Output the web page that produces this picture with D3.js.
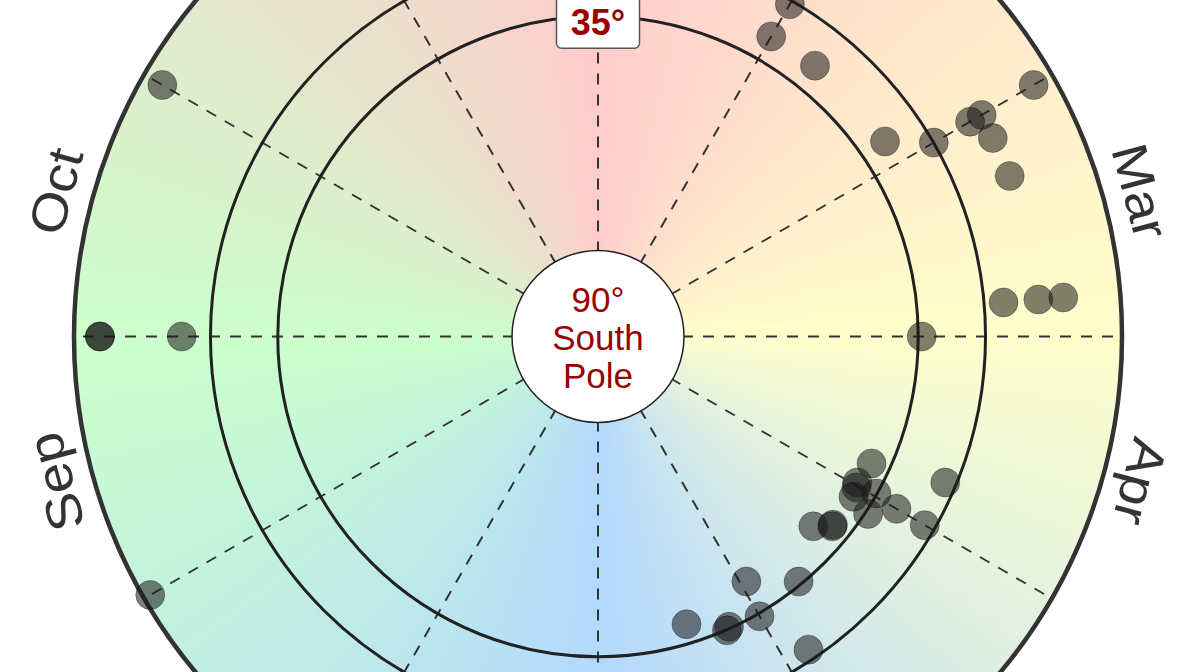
<!DOCTYPE html>
<html>
<head>
<meta charset="utf-8">
<script src="https://cdn.jsdelivr.net/npm/d3@7"></script>
<style>
  html, body { margin: 0; padding: 0; background: #fff; }
  svg { display: block; }
</style>
</head>
<body>
<svg id="chart" width="1177" height="672"></svg>
<script>
// ---- data ----
const months = ["Jan","Feb","Mar","Apr","May","Jun","Jul","Aug","Sep","Oct","Nov","Dec"];
// ring latitudes (degrees south); 35° is labelled, 23.44° is the Tropic of Capricorn
const ringLats = [35, 23.44];
const ringLabels = ["35°"];
const ringLabelLats = [35];
const centerLabel = ["90°", "South", "Pole"];
// point positions: month (0 = 1 Jan, 12 = 31 Dec) and latitude (degrees south)
const pointMonth = [1.00, 1.00, 1.29, 2.00, 2.00, 2.00, 2.11, 1.86, 2.00, 2.29,
                    2.84, 2.84, 2.84, 3.00, 3.83, 3.76, 3.98, 4.01, 4.07, 3.98,
                    4.11, 4.00, 4.00, 4.38, 4.29, 4.30, 4.96, 4.69, 5.43, 5.19,
                    5.21, 5.00, 4.87, 10.00, 9.00, 9.00, 9.00, 8.00];
const pointLat   = [24.1, 30.5, 30.4, 3.6, 13.9, 16.2, 14.1, 30.4, 23.4, 14.1,
                    20.1, 14.1, 9.8, 34.4, 38.2, 25.3, 38.9, 38.6, 38.2, 35.1,
                    34.5, 30.8, 25.2, 40.7, 38.3, 38.2, 40.8, 35.6, 38.3, 35.3,
                    34.9, 34.5, 25.2, 3.6, 4.5, 4.4, 18.5, 1.2];
// season colours (angle of peak, degrees clockwise from top)
const seasonAngles = [0, 90, 180, 270, 360];
const seasonColors = ["#ffcccc", "#ffffcc", "#b3d9ff", "#ccffcc", "#ffcccc"];

// ---- layout ----
const cx = 598, cy = 336.5, R = 524, capR = 86;
const svg = d3.select("#chart");
const g = svg.append("g").attr("transform", `translate(${cx},${cy})`);

const r = d3.scaleLinear().domain([90, 0]).range([0, R]);
const ang = d3.scaleLinear().domain([0, 12]).range([0, 2 * Math.PI]);
const col = d3.scaleLinear().domain(seasonAngles).range(seasonColors).interpolate(d3.interpolateRgb);

// background wedges (conic gradient)
const steps = d3.range(0, 360, 1);
const arc = d3.arc().innerRadius(0).outerRadius(R);
g.append("g").selectAll("path").data(steps).join("path")
  .attr("d", d => arc({startAngle: (d - 0.6) * Math.PI / 180, endAngle: (d + 1.6) * Math.PI / 180}))
  .attr("fill", d => col(d + 0.5));

// spokes
g.append("g").selectAll("line").data(d3.range(12)).join("line")
  .attr("x1", 0).attr("y1", 0)
  .attr("x2", d => R * Math.sin(ang(d)))
  .attr("y2", d => -R * Math.cos(ang(d)))
  .attr("stroke", "#333").attr("stroke-width", 2)
  .attr("stroke-dasharray", "11,10");

// rings
g.append("g").selectAll("circle").data(ringLats).join("circle")
  .attr("r", d => r(d)).attr("fill", "none")
  .attr("stroke", "#222").attr("stroke-width", 3);

// outer circle (equator)
g.append("circle").attr("r", r(0)).attr("fill", "none")
  .attr("stroke", "#333").attr("stroke-width", 4.5);

// points
g.append("g").selectAll("circle").data(pointMonth.map((m, i) => ({m, lat: pointLat[i]}))).join("circle")
  .attr("cx", d => r(d.lat) * Math.sin(ang(d.m)))
  .attr("cy", d => -r(d.lat) * Math.cos(ang(d.m)))
  .attr("r", 14.5)
  .attr("fill", "#181818").attr("fill-opacity", 0.55)
  .attr("stroke", "#000").attr("stroke-opacity", 0.3).attr("stroke-width", 1);

// centre cap
g.append("circle").attr("r", capR).attr("fill", "#fff")
  .attr("stroke", "#222").attr("stroke-width", 1.5);
g.append("g").selectAll("text").data(centerLabel).join("text")
  .attr("x", 0).attr("y", (d, i) => -25 + i * 38.3)
  .attr("text-anchor", "middle")
  .attr("font-family", "Liberation Sans, Arial, sans-serif")
  .attr("font-size", 35).attr("fill", "#990000")
  .text(d => d);

// ring label(s)
const lab = g.append("g").selectAll("g").data(ringLabelLats).join("g")
  .attr("transform", d => `translate(0,${-r(d)})`);
lab.append("rect").attr("x", -41.5).attr("y", -20).attr("width", 83).attr("height", 52)
  .attr("rx", 5).attr("fill", "#fff").attr("stroke", "#555").attr("stroke-width", 1.5);
lab.append("text").attr("x", 0).attr("y", 19)
  .attr("text-anchor", "middle")
  .attr("font-family", "Liberation Sans, Arial, sans-serif")
  .attr("font-weight", "bold").attr("font-size", 36).attr("fill", "#990000")
  .text((d, i) => ringLabels[i]);

// month labels, tangential
const labR = 562;
g.append("g").selectAll("text").data(months).join("text")
  .attr("transform", (d, i) => {
    const a = (i + 0.5) * 30;
    const x = labR * Math.sin(a * Math.PI / 180), y = -labR * Math.cos(a * Math.PI / 180);
    let rot = a < 180 ? a : a - 360;
    if (a > 90 && a < 270 && Math.abs(rot) > 120) rot = a - 180;
    return `translate(${x},${y}) rotate(${rot}) scale(1.12,1)`;
  })
  .attr("text-anchor", "middle").attr("dy", "0.36em")
  .attr("font-family", "Liberation Sans, Arial, sans-serif")
  .attr("font-size", 50).attr("fill", "#333")
  .text(d => d);
</script>
</body>
</html>
